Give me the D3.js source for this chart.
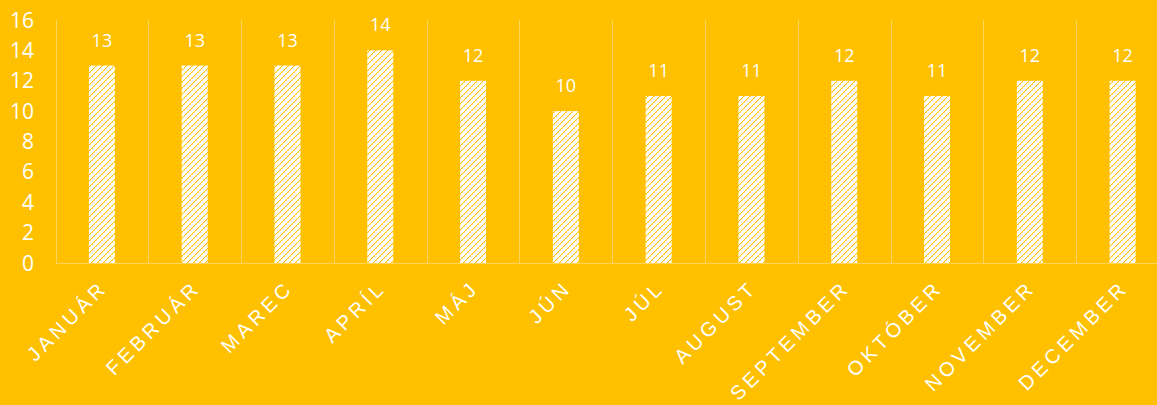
<!DOCTYPE html>
<html>
<head>
<meta charset="utf-8">
<script src="https://cdn.jsdelivr.net/npm/d3@7"></script>
<style>
  body { margin: 0; background: #FFC000; }
  svg { display: block; }
</style>
</head>
<body>
<div id="chart"></div>
<script>
const months = ["JANUÁR", "FEBRUÁR", "MAREC", "APRÍL", "MÁJ", "JÚN", "JÚL", "AUGUST", "SEPTEMBER", "OKTÓBER", "NOVEMBER", "DECEMBER"];
const counts = [13, 13, 13, 14, 12, 10, 11, 11, 12, 11, 12, 12];
const yTicks = [0, 2, 4, 6, 8, 10, 12, 14, 16];

const W = 1157, H = 405;
const margin = { top: 20, right: -12, bottom: 142, left: 55.5 };

const svg = d3.select("#chart").append("svg")
    .attr("width", W)
    .attr("height", H);

svg.append("rect").attr("width", W).attr("height", H).attr("fill", "#FFC000");

// hatch pattern for the bars (white with dotted orange diagonals)
const defs = svg.append("defs");
const pat = defs.append("pattern")
    .attr("id", "hatch")
    .attr("patternUnits", "userSpaceOnUse")
    .attr("width", 6)
    .attr("height", 6);
pat.append("rect").attr("width", 6).attr("height", 6).attr("fill", "#ffffff");
pat.selectAll("rect.dot")
    .data(d3.range(6))
    .join("rect")
    .attr("class", "dot")
    .attr("x", i => i)
    .attr("y", i => 5 - i)
    .attr("width", 1)
    .attr("height", 1)
    .attr("fill", "#FFC000");
pat.selectAll("rect.half")
    .data(d3.range(6))
    .join("rect")
    .attr("class", "half")
    .attr("x", i => (i + 1) % 6)
    .attr("y", i => 5 - i)
    .attr("width", 1)
    .attr("height", 1)
    .attr("fill", "#FFC000")
    .attr("opacity", i => i % 2 ? 0.5 : 0);

const x = d3.scaleBand()
    .domain(months)
    .range([margin.left, W - margin.right])
    .paddingInner(0)
    .paddingOuter(0);

const y = d3.scaleLinear()
    .domain([0, 16])
    .range([H - margin.bottom, margin.top]);

// vertical gridlines at category boundaries
svg.append("g")
    .selectAll("line")
    .data(months)
    .join("line")
    .attr("x1", d => Math.round(x(d)) + 0.5)
    .attr("x2", d => Math.round(x(d)) + 0.5)
    .attr("y1", y(16))
    .attr("y2", y(0))
    .attr("stroke", "#FFD45C")
    .attr("stroke-width", 1);

// baseline
svg.append("line")
    .attr("x1", margin.left)
    .attr("x2", W)
    .attr("y1", Math.round(y(0)) + 0.5)
    .attr("y2", Math.round(y(0)) + 0.5)
    .attr("stroke", "#FFD45C")
    .attr("stroke-width", 1);

// y axis labels
svg.append("g")
    .selectAll("text")
    .data(yTicks)
    .join("text")
    .attr("x", 34)
    .attr("y", d => y(d))
    .attr("dy", "0.36em")
    .attr("text-anchor", "end")
    .attr("fill", "#ffffff")
    .style("font-family", "'Open Sans', sans-serif")
    .style("font-size", "21px")
    .text(d => d);

// bars
const barW = x.bandwidth() * 0.28;
svg.append("g")
    .selectAll("rect")
    .data(months)
    .join("rect")
    .attr("x", d => x(d) + (x.bandwidth() - barW) / 2)
    .attr("y", (d, i) => y(counts[i]))
    .attr("width", barW)
    .attr("height", (d, i) => y(0) - y(counts[i]))
    .attr("fill", "url(#hatch)");

// value labels
svg.append("g")
    .selectAll("text")
    .data(months)
    .join("text")
    .attr("x", d => x(d) + x.bandwidth() / 2)
    .attr("y", (d, i) => y(counts[i]) - 19)
    .attr("text-anchor", "middle")
    .attr("fill", "#ffffff")
    .style("font-family", "'Open Sans', sans-serif")
    .style("font-size", "18px")
    .text((d, i) => counts[i]);

// rotated month labels
svg.append("g")
    .selectAll("text")
    .data(months)
    .join("text")
    .attr("transform", d => `translate(${x(d) + x.bandwidth() / 2 + 7},${y(0) + 26}) rotate(-45)`)
    .attr("text-anchor", "end")
    .attr("fill", "#ffffff")
    .style("font-family", "'Liberation Sans', sans-serif")
    .style("font-size", "20px")
    .style("letter-spacing", "4px")
    .text(d => d);
</script>
</body>
</html>
